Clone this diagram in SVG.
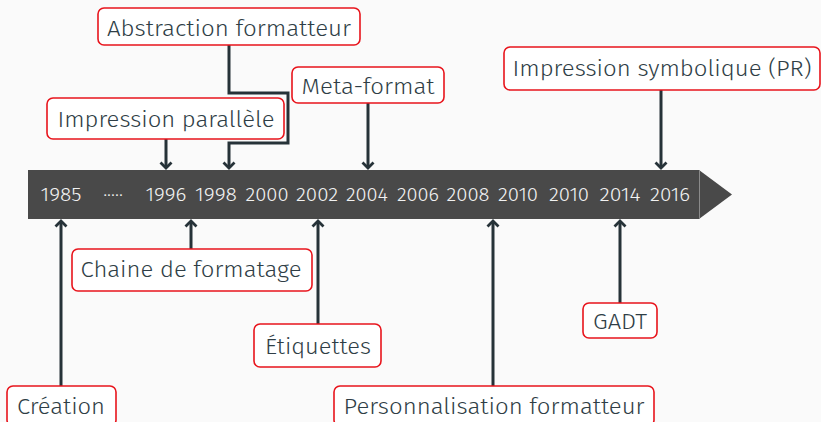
<svg xmlns="http://www.w3.org/2000/svg" width="821" height="422" viewBox="0 0 821 422">
<style>
.box{fill:#ffffff;stroke:#e8141c;stroke-width:1.6}
.lbl{font-family:"Fira Sans","Open Sans","Noto Sans",sans-serif;font-size:22px;font-weight:300;fill:#2f3e46;text-anchor:middle}
.yr{font-family:"Fira Sans","Open Sans","Noto Sans",sans-serif;font-size:19px;font-weight:300;fill:#f2f2f2;text-anchor:middle}
.con{fill:none;stroke:#263238;stroke-width:3;marker-end:url(#ah)}
</style>
<defs>
<marker id="ah" markerUnits="userSpaceOnUse" markerWidth="14" markerHeight="14" viewBox="-8 -7 14 14" refX="0" refY="0" orient="auto">
<path d="M-5.5,-5.5 L0,0 L-5.5,5.5" fill="none" stroke="#263238" stroke-width="2.8"/>
</marker>
</defs>
<rect width="821" height="422" fill="#fafafa"/>
<g id="timeline">
<rect x="28" y="170" width="671" height="49" fill="#494949"/>
<polygon points="699,170 732,194.5 699,219" fill="#494949"/>
<line x1="699.5" y1="170" x2="699.5" y2="219" stroke="#8a8a8a" stroke-width="1"/>
<text class="yr" x="61" y="201" textLength="41" lengthAdjust="spacingAndGlyphs">1985</text>
<text class="yr" x="113" y="201">·····</text>
<text class="yr" x="166" y="201" textLength="41" lengthAdjust="spacingAndGlyphs">1996</text>
<text class="yr" x="216" y="201" textLength="42" lengthAdjust="spacingAndGlyphs">1998</text>
<text class="yr" x="267" y="201" textLength="43" lengthAdjust="spacingAndGlyphs">2000</text>
<text class="yr" x="317" y="201" textLength="42" lengthAdjust="spacingAndGlyphs">2002</text>
<text class="yr" x="367" y="201" textLength="42" lengthAdjust="spacingAndGlyphs">2004</text>
<text class="yr" x="418" y="201" textLength="42" lengthAdjust="spacingAndGlyphs">2006</text>
<text class="yr" x="468" y="201" textLength="43" lengthAdjust="spacingAndGlyphs">2008</text>
<text class="yr" x="518" y="201" textLength="40" lengthAdjust="spacingAndGlyphs">2010</text>
<text class="yr" x="569" y="201" textLength="40" lengthAdjust="spacingAndGlyphs">2010</text>
<text class="yr" x="620" y="201" textLength="41" lengthAdjust="spacingAndGlyphs">2014</text>
<text class="yr" x="670" y="201" textLength="40" lengthAdjust="spacingAndGlyphs">2016</text>
</g>
<g id="connectors">
<path class="con" d="M166,139 V168"/>
<path class="con" d="M229,45 V93 H288 V143 H229 V168"/>
<path class="con" d="M368,103 V168"/>
<path class="con" d="M661,90 V168"/>
<path class="con" d="M61,386 V221"/>
<path class="con" d="M191,249 V221"/>
<path class="con" d="M318,324 V221"/>
<path class="con" d="M493,386 V221"/>
<path class="con" d="M620,303 V221"/>
</g>
<g id="abstraction">
<rect class="box" x="98" y="8" width="262" height="37" rx="6"/>
<text class="lbl" x="229" y="36" textLength="244" lengthAdjust="spacingAndGlyphs">Abstraction formatteur</text>
</g>
<g id="metaformat">
<rect class="box" x="292" y="67" width="152" height="36" rx="6"/>
<text class="lbl" x="368" y="94" textLength="133" lengthAdjust="spacingAndGlyphs">Meta-format</text>
</g>
<g id="parallele">
<rect class="box" x="47" y="98" width="237" height="41" rx="6"/>
<text class="lbl" x="166" y="127" textLength="217" lengthAdjust="spacingAndGlyphs">Impression parallèle</text>
</g>
<g id="symbolique">
<rect class="box" x="504" y="47" width="316" height="43" rx="6"/>
<text class="lbl" x="662" y="76" textLength="299" lengthAdjust="spacingAndGlyphs">Impression symbolique (PR)</text>
</g>
<g id="chaine">
<rect class="box" x="72" y="249" width="240" height="42" rx="6"/>
<text class="lbl" x="191" y="277" textLength="221" lengthAdjust="spacingAndGlyphs">Chaine de formatage</text>
</g>
<g id="etiquettes">
<rect class="box" x="254" y="324" width="127" height="43" rx="6"/>
<text class="lbl" x="318" y="354" textLength="106" lengthAdjust="spacingAndGlyphs">Étiquettes</text>
</g>
<g id="creation">
<rect class="box" x="7" y="386" width="109" height="40" rx="6"/>
<text class="lbl" x="61" y="414" textLength="88" lengthAdjust="spacingAndGlyphs">Création</text>
</g>
<g id="personnalisation">
<rect class="box" x="334" y="386" width="320" height="40" rx="6"/>
<text class="lbl" x="494" y="414" textLength="301" lengthAdjust="spacingAndGlyphs">Personnalisation formatteur</text>
</g>
<g id="gadt">
<rect class="box" x="583" y="303" width="74" height="35" rx="6"/>
<text class="lbl" x="620" y="329" textLength="54" lengthAdjust="spacingAndGlyphs">GADT</text>
</g>
</svg>
